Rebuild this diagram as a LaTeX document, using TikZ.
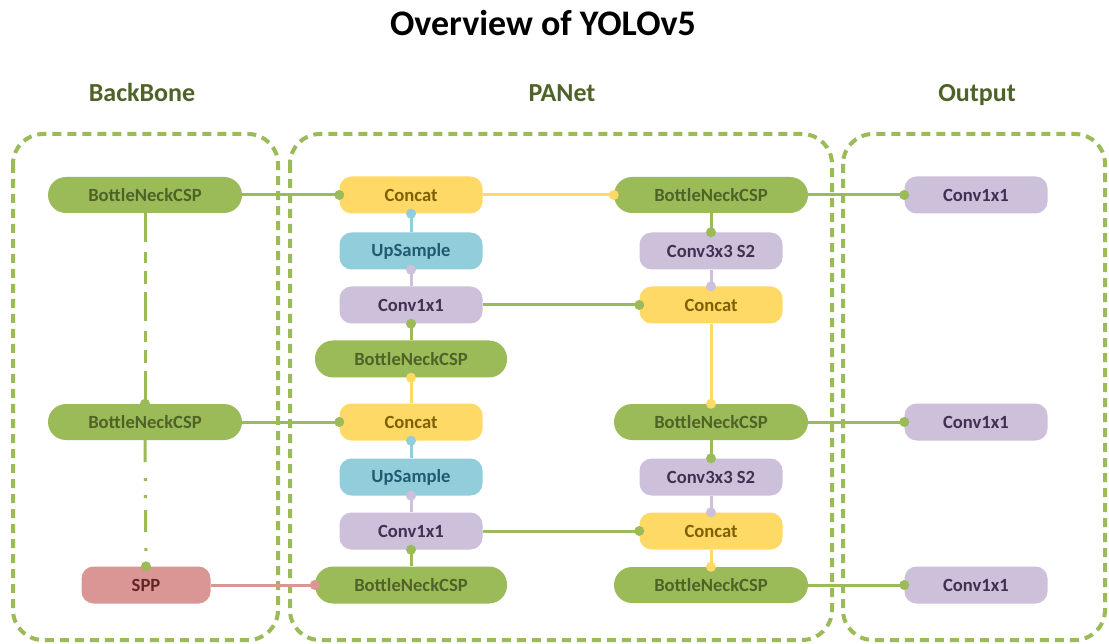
\documentclass[tikz,border=0pt]{standalone}
\usepackage{fontspec}
\setmainfont{Carlito}
\definecolor{cgreen}{HTML}{9BBB59}
\definecolor{tgreen}{HTML}{4F6228}
\definecolor{cyellow}{HTML}{FFD966}
\definecolor{tyellow}{HTML}{7F6000}
\definecolor{cblue}{HTML}{92CDDC}
\definecolor{tblue}{HTML}{1F5C70}
\definecolor{clav}{HTML}{CCC0DA}
\definecolor{tlav}{HTML}{403152}
\definecolor{cred}{HTML}{DA9694}
\definecolor{tred}{HTML}{632523}
\newcommand\myconn[3]{\draw[line width=3pt,#1] (#2) -- (#3); \fill[#1] (#3) circle (5pt);}
\begin{document}
\begin{tikzpicture}[x=1pt,y=-1pt,
  box/.style={inner sep=0pt, font=\bfseries\fontsize{18.6}{20}\selectfont},
  gnode/.style={box, fill=cgreen, text=tgreen, rounded corners=18pt, minimum width=194pt, minimum height=36pt},
  wnode/.style={box, fill=cgreen, text=tgreen, rounded corners=18pt, minimum width=192pt, minimum height=37pt},
  ynode/.style={box, fill=cyellow, text=tyellow, rounded corners=12pt, minimum width=143pt, minimum height=37pt},
  bnode/.style={box, fill=cblue, text=tblue, rounded corners=12pt, minimum width=143pt, minimum height=37pt},
  lnode/.style={box, fill=clav, text=tlav, rounded corners=12pt, minimum width=143pt, minimum height=37pt},
  rnode/.style={box, fill=cred, text=tred, rounded corners=12pt, minimum width=129pt, minimum height=37pt},
  group/.style={draw=cgreen, line width=4pt, dash pattern=on 9pt off 6pt, rounded corners=30pt},
  header/.style={anchor=base, text=tgreen, font=\bfseries\fontsize{26}{30}\selectfont},
]
\useasboundingbox[fill=white] (0,0) rectangle (1109,644);

% title and headers
\node[anchor=base, font=\bfseries\fontsize{36}{42}\selectfont] (title) at (543,36) {Overview of YOLOv5};
\node[header] (hbb) at (142,102) {BackBone};
\node[header] (hpa) at (562,102) {PANet};
\node[header] (hout) at (977,102) {Output};

% group boxes
\draw[group] (13,134) rectangle (278,640);
\draw[group] (290,134) rectangle (832,640);
\draw[group] (843,134) rectangle (1105,640);

% backbone
\node[gnode] (bb1) at (145,195) {BottleNeckCSP};
\node[gnode] (bb2) at (145,422) {BottleNeckCSP};
\node[rnode] (spp) at (146,585) {SPP};

% PANet column 1
\node[ynode] (c1) at (411,195) {Concat};
\node[bnode] (u1) at (411,251) {UpSample};
\node[lnode] (k1) at (411,305) {Conv1x1};
\node[wnode] (m1) at (411,359) {BottleNeckCSP};
\node[ynode] (c2) at (411,422) {Concat};
\node[bnode] (u2) at (411,477) {UpSample};
\node[lnode] (k2) at (411,531) {Conv1x1};
\node[wnode] (m2) at (411,585) {BottleNeckCSP};

% PANet column 2
\node[gnode] (r1) at (711,195) {BottleNeckCSP};
\node[lnode] (s1) at (711,251) {Conv3x3 S2};
\node[ynode] (d1) at (711,305) {Concat};
\node[gnode] (r2) at (711,422) {BottleNeckCSP};
\node[lnode] (s2) at (711,477) {Conv3x3 S2};
\node[ynode] (d2) at (711,531) {Concat};
\node[gnode] (r3) at (711,585) {BottleNeckCSP};

% output
\node[lnode] (o1) at (976,195) {Conv1x1};
\node[lnode] (o2) at (976,422) {Conv1x1};
\node[lnode] (o3) at (976,585) {Conv1x1};

% backbone vertical links
\draw[cgreen, line width=3pt, dash pattern=on 29pt off 10pt on 11pt off 8pt on 13pt off 8pt] (bb1.south) -- (bb2.north);
\fill[cgreen] (bb2.north) circle (5pt);
\draw[cgreen, line width=3pt, dash pattern=on 22pt off 16pt on 3pt off 14pt on 3pt off 12pt] (bb2.south) -- (spp.north);
\fill[cgreen] (spp.north) circle (5pt);

% horizontal links
\myconn{cgreen}{bb1.east}{c1.west}
\myconn{cyellow}{c1.east}{r1.west}
\myconn{cgreen}{r1.east}{o1.west}
\myconn{cgreen}{k1.east}{d1.west}
\myconn{cgreen}{bb2.east}{c2.west}
\myconn{cgreen}{r2.east}{o2.west}
\myconn{cgreen}{k2.east}{d2.west}
\myconn{cred}{spp.east}{m2.west}
\myconn{cgreen}{r3.east}{o3.west}

% column 1 vertical links (upwards)
\myconn{cblue}{u1.north}{c1.south}
\myconn{clav}{k1.north}{u1.south}
\myconn{cgreen}{m1.north}{k1.south}
\myconn{cyellow}{c2.north}{m1.south}
\myconn{cblue}{u2.north}{c2.south}
\myconn{clav}{k2.north}{u2.south}
\myconn{cgreen}{m2.north}{k2.south}

% column 2 vertical links (downwards)
\myconn{cgreen}{r1.south}{s1.north}
\myconn{clav}{s1.south}{d1.north}
\myconn{cyellow}{d1.south}{r2.north}
\myconn{cgreen}{r2.south}{s2.north}
\myconn{clav}{s2.south}{d2.north}
\myconn{cyellow}{d2.south}{r3.north}
\end{tikzpicture}
\end{document}
